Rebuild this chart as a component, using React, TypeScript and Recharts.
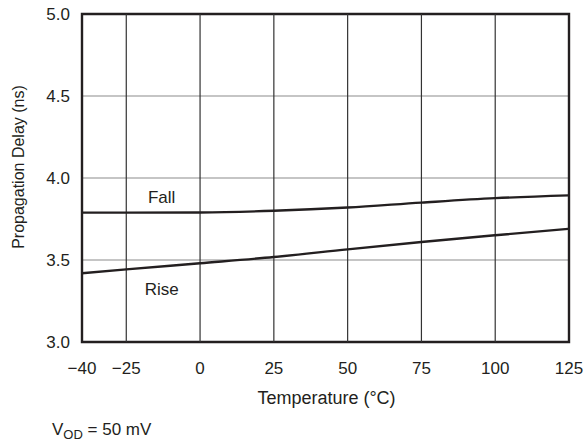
import React from 'react';
import {
  LineChart,
  Line,
  XAxis,
  YAxis,
  CartesianGrid,
  ReferenceLine,
  ReferenceArea,
  ReferenceDot,
} from 'recharts';

// propagation delay vs temperature
const temperature = [-40, -25, 0, 25, 50, 75, 100, 125];
const fallDelay = [3.789, 3.789, 3.79, 3.8, 3.82, 3.85, 3.877, 3.894];
const riseDelay = [3.419, 3.443, 3.48, 3.518, 3.565, 3.61, 3.651, 3.69];

const xTicks = [-40, -25, 0, 25, 50, 75, 100, 125];
const yTicks = [3.0, 3.5, 4.0, 4.5, 5.0];
const xGridLines = [-25, 0, 25, 50, 75, 100];

const data = temperature.map((t, i) => ({
  temp: t,
  fall: fallDelay[i],
  rise: riseDelay[i],
}));

const ink = '#231f20';
const font = '"Liberation Sans", Arial, Helvetica, sans-serif';
const fs = 17;

const fmtX = (v: number) => (v < 0 ? `\u2212${Math.abs(v)}` : `${v}`);

const App: React.FC = () => {
  return (
    <div
      style={{
        position: 'absolute',
        left: 0,
        top: 0,
        width: 584,
        height: 443,
        background: '#fff',
        fontFamily: font,
        color: ink,
      }}
    >
      <LineChart
        width={584}
        height={443}
        data={data}
        margin={{ top: 14, right: 15, left: 0, bottom: 71 }}
      >
        <CartesianGrid vertical={false} stroke="#8c8c8c" strokeWidth={1.2} />
        {xGridLines.map((x) => (
          <ReferenceLine key={x} x={x} stroke="#333" strokeWidth={1.2} />
        ))}
        <XAxis
          dataKey="temp"
          type="number"
          domain={[-40, 125]}
          ticks={xTicks}
          tickFormatter={fmtX}
          axisLine={false}
          tickLine={false}
          tickSize={0}
          tickMargin={20}
          height={30}
          tick={{ fill: ink, fontSize: fs, fontFamily: font }}
        />
        <YAxis
          type="number"
          domain={[3, 5]}
          ticks={yTicks}
          tickFormatter={(v: number) => v.toFixed(1)}
          axisLine={false}
          tickLine={false}
          tickSize={0}
          tickMargin={12}
          width={82}
          tick={{ fill: ink, fontSize: fs, fontFamily: font }}
        />
        <ReferenceArea
          x1={-40}
          x2={125}
          y1={3}
          y2={5}
          fill="none"
          stroke={ink}
          strokeWidth={2.4}
        />
        <Line
          type="monotone"
          dataKey="fall"
          stroke={ink}
          strokeWidth={2.4}
          dot={false}
          isAnimationActive={false}
        />
        <Line
          type="monotone"
          dataKey="rise"
          stroke={ink}
          strokeWidth={2.4}
          dot={false}
          isAnimationActive={false}
        />
        <ReferenceDot
          x={-13}
          y={3.887}
          r={0}
          fill="none"
          stroke="none"
          label={{ value: 'Fall', position: 'center', fill: ink, fontSize: fs, fontFamily: font }}
        />
        <ReferenceDot
          x={-13}
          y={3.326}
          r={0}
          fill="none"
          stroke="none"
          label={{ value: 'Rise', position: 'center', fill: ink, fontSize: fs, fontFamily: font }}
        />
      </LineChart>

      <div
        style={{
          position: 'absolute',
          left: 19,
          top: 166.5,
          transform: 'translate(-50%, -50%) rotate(-90deg)',
          whiteSpace: 'nowrap',
          fontSize: 16,
          lineHeight: 1,
        }}
      >
        Propagation Delay (ns)
      </div>
      <div
        style={{
          position: 'absolute',
          left: 326.5,
          top: 397.5,
          transform: 'translate(-50%, -50%)',
          whiteSpace: 'nowrap',
          fontSize: 18,
          lineHeight: 1,
        }}
      >
        Temperature (°C)
      </div>
      <div
        style={{
          position: 'absolute',
          left: 52,
          top: 421,
          whiteSpace: 'nowrap',
          fontSize: fs,
          lineHeight: 1,
        }}
      >
        V<sub style={{ fontSize: 13, verticalAlign: -4, lineHeight: 0 }}>OD</sub> = 50 mV
      </div>
    </div>
  );
};

export default App;
